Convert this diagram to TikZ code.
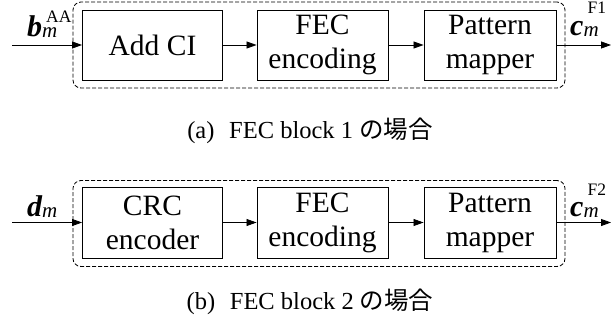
\documentclass[tikz,border=0pt]{standalone}
\usepackage{fontspec}
\setmainfont{Liberation Serif}
\newfontfamily\jpfont{Noto Sans CJK JP}
\usetikzlibrary{arrows.meta}

% bold italic symbol with an italic subscript and an upright superscript
% #1 symbol, #2 subscript, #3 superscript, #4 raise of the superscript
\newcommand{\symlbl}[4]{%
  {\fontsize{30}{30}\selectfont\bfseries\itshape #1}%
  \rlap{\fontsize{17.5}{17.5}\selectfont\kern4pt\raisebox{#4}{#3}}%
  {\fontsize{21}{21}\selectfont\itshape\raisebox{-1pt}{#2}}}

\begin{document}
\begin{tikzpicture}[x=1pt,y=-1pt,
  blk/.style={draw, line width=0.9pt, minimum height=70pt, inner sep=0pt,
    align=center, font=\fontsize{29.5}{34}\selectfont},
  grp/.style={draw, line width=0.8pt, dash pattern=on 4pt off 2pt,
    rounded corners=8pt, minimum width=492pt, minimum height=86pt, inner sep=0pt},
  flow/.style={line width=0.8pt, -{Triangle[length=10pt,width=7pt]}},
  lbl/.style={anchor=base west, inner sep=0pt},
  captxt/.style={anchor=base, inner sep=0pt, font=\fontsize{24.5}{24.5}\selectfont},
]
\useasboundingbox (0,0) rectangle (611,329);

% ---- FEC block 1 ----
\node[grp] (g1) at (319,45) {};
\node[blk, minimum width=140pt] (ci)   at (152.5,45) {Add CI};
\node[blk, minimum width=131pt] (fec1) at (322.5,45) {FEC\\encoding};
\node[blk, minimum width=132pt] (pm1)  at (490,45)   {Pattern\\mapper};
\coordinate (in1)  at (12,45);
\coordinate (out1) at (611,45);
\draw[flow] (in1) -- (ci.west);
\draw[flow] (ci.east) -- (fec1.west);
\draw[flow] (fec1.east) -- (pm1.west);
\draw[flow] (pm1.east) -- (out1);

\node[lbl] (bin)  at (27,37)  {\symlbl{b}{m}{AA}{14pt}};
\node[lbl] (cout1) at (570,36) {\symlbl{c}{m}{F1}{22pt}};

\node[captxt] (capa) at (310,139)
  {(a)\hspace{0.6em}FEC block 1 {\jpfont の場合}};

% ---- FEC block 2 ----
\node[grp] (g2) at (319,223.5) {};
\node[blk, minimum width=140pt, minimum height=71pt] (crc)  at (152.5,222.5) {CRC\\encoder};
\node[blk, minimum width=131pt, minimum height=71pt] (fec2) at (322.5,222.5) {FEC\\encoding};
\node[blk, minimum width=132pt, minimum height=71pt] (pm2)  at (490,222.5)   {Pattern\\mapper};
\coordinate (in2)  at (12,222.5);
\coordinate (out2) at (611,222.5);
\draw[flow] (in2) -- (crc.west);
\draw[flow] (crc.east) -- (fec2.west);
\draw[flow] (fec2.east) -- (pm2.west);
\draw[flow] (pm2.east) -- (out2);

\node[lbl] (din)   at (27,216)    {\symlbl{d}{m}{}{0pt}};
\node[lbl] (cout2) at (570,216.5) {\symlbl{c}{m}{F2}{21.5pt}};

\node[captxt] (capb) at (310,309)
  {(b)\hspace{0.6em}FEC block 2 {\jpfont の場合}};
\end{tikzpicture}
\end{document}
